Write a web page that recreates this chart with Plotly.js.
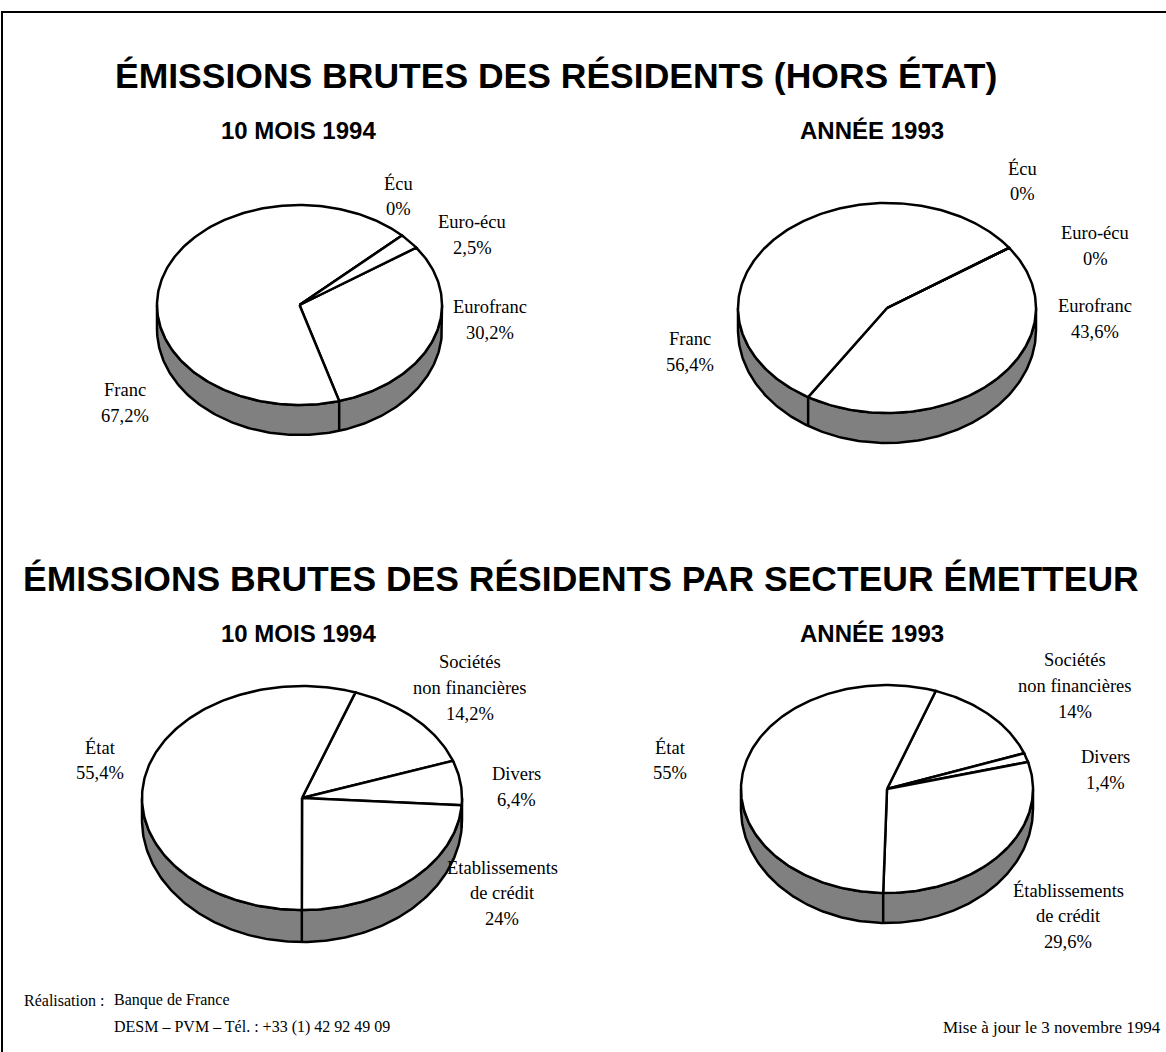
<!DOCTYPE html>
<html>
<head>
<meta charset="utf-8">
<script src="https://cdn.plot.ly/plotly-3.0.1.min.js"></script>
<style>
  html, body { margin: 0; padding: 0; background: #ffffff; }
  #chart { width: 1166px; height: 1052px; }
</style>
</head>
<body>
<div id="chart"></div>
<script>
// ---------------- DATA ----------------
const titleDevise = "ÉMISSIONS BRUTES DES RÉSIDENTS (HORS ÉTAT)";
const titleSecteur = "ÉMISSIONS BRUTES DES RÉSIDENTS PAR SECTEUR ÉMETTEUR";
const periodLabels = ["10 MOIS 1994", "ANNÉE 1993"];

const deviseCategories = [["Eurofranc"], ["Franc"], ["Écu"], ["Euro-écu"]];
const devise1994 = [30.2, 67.2, 0, 2.5];
const devise1993 = [43.6, 56.4, 0, 0];

const secteurCategories = [["Sociétés", "non financières"], ["Divers"], ["Établissements", "de crédit"], ["État"]];
const secteur1994 = [14.2, 6.4, 24, 55.4];
const secteur1993 = [14, 1.4, 29.6, 55];

const footerLeftLabel = "Réalisation :";
const footerLeftLines = ["Banque de France", "DESM – PVM – Tél. : +33 (1) 42 92 49 09"];
const footerRight = "Mise à jour le 3 novembre 1994";

// ---------------- LAYOUT CONFIG (positions / sizes) ----------------
const pies = [
  { cats: deviseCategories, vals: devise1994, cx: 299.5, cy: 305, rx: 142.5, ry: 100, dL: 24, dF: 30, start: 35,
    labels: [[490, 307], [125, 390], [398, 183], [472, 222]] },
  { cats: deviseCategories, vals: devise1993, cx: 887, cy: 308, rx: 149, ry: 105, dL: 22, dF: 30, start: 35,
    labels: [[1095, 306], [690, 339], [1022, 168], [1095, 233]] },
  { cats: secteurCategories, vals: secteur1994, cx: 302, cy: 798, rx: 160, ry: 112, dL: 22, dF: 32, start: 70.5,
    labels: [[470, 662], [516, 774], [502, 867], [100, 747]] },
  { cats: secteurCategories, vals: secteur1993, cx: 887, cy: 789, rx: 146, ry: 104, dL: 20, dF: 30, start: 70.5,
    labels: [[1075, 660], [1105, 757], [1068, 890], [670, 747]] }
];
const LINE_SP = 26;
const SIDE_COLOR = "#808080";
const LW = 2.5;

const serif = "Liberation Serif, Times New Roman, serif";
const sans = "Liberation Sans, Arial, sans-serif";

// ---------------- GEOMETRY ----------------
const rad = d => d * Math.PI / 180;
function topPt(p, a) { return [p.cx + p.rx * Math.cos(rad(a)), p.cy - p.ry * Math.sin(rad(a))]; }
function botPt(p, a) { return [p.cx + p.rx * Math.cos(rad(a)), p.cy + p.dL - (p.ry + p.dF - p.dL) * Math.sin(rad(a))]; }
function fmt(v) { return String(v).replace(".", ",") + "%"; }

const traces = [];
const annotations = [];

pies.forEach(p => {
  const total = p.vals.reduce((s, v) => s + v, 0);
  const bounds = [];
  let cum = 0;
  p.vals.forEach(v => {
    const a1 = p.start - 360 * cum / total;
    cum += v;
    const a2 = p.start - 360 * cum / total;
    bounds.push([a1, a2]);
  });

  // side band (front half: 180 -> 360)
  const sx = [], sy = [];
  for (let a = 180; a <= 360; a += 1) { const q = topPt(p, a); sx.push(q[0]); sy.push(q[1]); }
  for (let a = 360; a >= 180; a -= 1) { const q = botPt(p, a); sx.push(q[0]); sy.push(q[1]); }
  sx.push(sx[0]); sy.push(sy[0]);
  traces.push({ type: "scatter", mode: "lines", x: sx, y: sy, fill: "toself", fillcolor: SIDE_COLOR,
    line: { color: "#000", width: LW }, hoverinfo: "skip" });

  // vertical edges of slices on the front side
  bounds.forEach(b => {
    let a = ((b[0] % 360) + 360) % 360;
    if (a > 181 && a < 359) {
      const t = topPt(p, a), u = botPt(p, a);
      traces.push({ type: "scatter", mode: "lines", x: [t[0], u[0]], y: [t[1], u[1]],
        line: { color: "#000", width: LW }, hoverinfo: "skip" });
    }
  });

  // top face wedges
  bounds.forEach(b => {
    const x = [p.cx], y = [p.cy];
    const n = Math.max(1, Math.ceil(Math.abs(b[0] - b[1])));
    for (let i = 0; i <= n; i++) {
      const a = b[0] + (b[1] - b[0]) * i / n;
      const q = topPt(p, a); x.push(q[0]); y.push(q[1]);
    }
    x.push(p.cx); y.push(p.cy);
    traces.push({ type: "scatter", mode: "lines", x: x, y: y, fill: "toself", fillcolor: "#ffffff",
      line: { color: "#000", width: LW }, hoverinfo: "skip" });
  });

  // labels
  p.cats.forEach((c, i) => {
    const lines = c.concat([fmt(p.vals[i])]);
    lines.forEach((t, j) => {
      annotations.push({ x: p.labels[i][0], y: p.labels[i][1] + j * LINE_SP, xref: "x", yref: "y",
        text: t, showarrow: false, xanchor: "center", yanchor: "middle",
        font: { family: serif, size: 18.5, color: "#000" } });
    });
  });
});

// titles
function boldText(t, x, y, size) {
  annotations.push({ x: x, y: y, xref: "x", yref: "y", text: "<b>" + t + "</b>", showarrow: false,
    xanchor: "center", yanchor: "middle", font: { family: sans, size: size, color: "#000" } });
}
boldText(titleDevise, 556, 76, 35.5);
boldText(periodLabels[0], 298, 130, 24);
boldText(periodLabels[1], 872, 130, 24);
boldText(titleSecteur, 581, 579, 35.5);
boldText(periodLabels[0], 298, 633, 24);
boldText(periodLabels[1], 872, 633, 24);

// footer
annotations.push({ x: 22, y: 1000, xref: "x", yref: "y", text: footerLeftLabel, showarrow: false,
  xanchor: "left", yanchor: "middle", font: { family: serif, size: 16, color: "#000" } });
footerLeftLines.forEach((t, j) => {
  annotations.push({ x: 112, y: 1000 + j * 27, xref: "x", yref: "y", text: t, showarrow: false,
    xanchor: "left", yanchor: "middle", font: { family: serif, size: 16, color: "#000" } });
});
annotations.push({ x: 1163, y: 1027, xref: "x", yref: "y", text: footerRight, showarrow: false,
  xanchor: "right", yanchor: "middle", font: { family: serif, size: 17, color: "#000" } });

const layout = {
  width: 1166, height: 1052,
  margin: { l: 0, r: 0, t: 0, b: 0, pad: 0 },
  paper_bgcolor: "#ffffff", plot_bgcolor: "#ffffff",
  showlegend: false,
  xaxis: { range: [0, 1166], visible: false, fixedrange: true },
  yaxis: { range: [1052, 0], visible: false, fixedrange: true },
  annotations: annotations,
  shapes: [{ type: "rect", xref: "x", yref: "y", x0: 2, y0: 12, x1: 1175, y1: 1065,
    line: { color: "#000", width: 2 }, fillcolor: "rgba(0,0,0,0)" }]
};

Plotly.newPlot("chart", traces, layout, { staticPlot: true, displayModeBar: false });
</script>
</body>
</html>
